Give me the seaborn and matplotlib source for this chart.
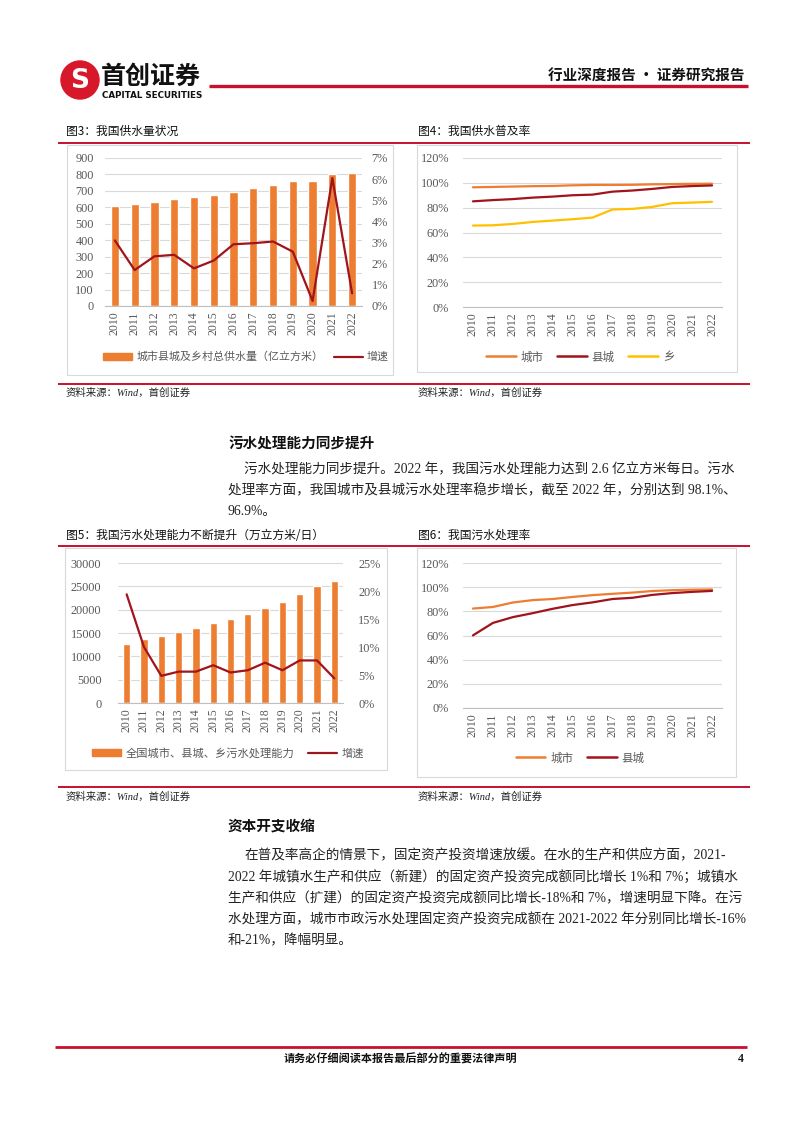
import matplotlib
matplotlib.use("Agg")
import matplotlib.pyplot as plt
import seaborn as sns
import numpy as np
import pandas as pd
from matplotlib.patches import Rectangle, Circle
from matplotlib.lines import Line2D
from matplotlib.ticker import FuncFormatter

# ---------------- data ----------------
years = [str(y) for y in range(2010, 2023)]
supply_total = [607, 620, 634, 650, 660, 677, 695, 715, 737, 758, 760, 805, 811]
supply_growth = [3.10, 1.70, 2.35, 2.42, 1.78, 2.15, 2.92, 2.97, 3.05, 2.57, 0.24, 6.05, 0.60]
coverage_city = [96.4, 96.7, 97.0, 97.3, 97.5, 98.0, 98.3, 98.3, 98.4, 98.8, 99.0, 99.2, 99.3]
coverage_county = [85.1, 86.1, 86.9, 88.1, 88.9, 90.0, 90.5, 92.9, 93.8, 95.1, 96.7, 97.4, 97.9]
coverage_town = [65.6, 65.8, 66.9, 68.5, 69.6, 70.7, 72.0, 78.5, 79.0, 80.6, 83.6, 84.1, 84.7]
sewage_capacity = [12560, 13710, 14430, 15220, 16080, 17160, 18090, 19090, 20390, 21680, 23260, 24980, 26060]
sewage_growth = [19.4, 10.0, 4.85, 5.6, 5.6, 6.75, 5.45, 5.85, 7.2, 5.85, 7.6, 7.6, 4.4]
treat_city = [82.3, 83.6, 87.3, 89.3, 90.2, 91.9, 93.4, 94.5, 95.5, 96.8, 97.5, 97.9, 98.1]
treat_county = [60.1, 70.4, 75.2, 78.5, 82.1, 85.2, 87.4, 90.2, 91.2, 93.6, 95.1, 96.1, 96.9]

# ---------------- style ----------------
sns.set_style("white")
SERIF = ['Liberation Serif', 'Noto Sans CJK SC', 'DejaVu Sans']
CJK = ['Noto Sans CJK SC', 'DejaVu Sans']
plt.rcParams['font.family'] = SERIF
ORANGE = '#ED7D31'
DARKRED = '#A0141C'
YELLOW = '#FFC000'
RED = '#C8102E'
GRID = '#D9D9D9'
TXT = '#595959'
TICKSIZE = 8.8

W, H = 802, 1133
fig = plt.figure(figsize=(W / 100, H / 100), dpi=100)


def fx(x):
    return x / W


def fy(y):
    return 1 - y / H


def hline(x0, x1, y, lw, color=RED):
    fig.add_artist(Line2D([fx(x0), fx(x1)], [fy(y), fy(y)], color=color, lw=lw,
                          transform=fig.transFigure, solid_capstyle='butt'))


def box(x0, y0, x1, y1):
    fig.add_artist(Rectangle((fx(x0), fy(y1)), fx(x1) - fx(x0), fy(y0) - fy(y1),
                             fill=False, ec=GRID, lw=0.8, transform=fig.transFigure))


def add_axes(x0, y0, x1, y1):
    return fig.add_axes([fx(x0), fy(y1), fx(x1) - fx(x0), fy(y0) - fy(y1)])


pct = FuncFormatter(lambda v, _: f"{v:.0f}%")


def style_cat(ax, n, ypad):
    ax.set_xlim(-0.5, n - 0.5)
    ax.set_xticks(range(n))
    ax.set_xticklabels(years, rotation=90, fontsize=8.5, color=TXT)
    ax.tick_params(axis='x', which='major', length=0, pad=4)
    ax.set_xticks(np.arange(-0.5, n, 1), minor=True)
    ax.tick_params(axis='x', which='minor', length=4, color='#BFBFBF', width=0.8)
    for s in ['left', 'right', 'top']:
        ax.spines[s].set_visible(False)
    ax.spines['bottom'].set_color('#BFBFBF')
    ax.spines['bottom'].set_linewidth(0.8)
    ax.grid(axis='y', color=GRID, lw=0.8)
    ax.grid(axis='x', visible=False)
    ax.set_axisbelow(True)
    ax.tick_params(axis='y', length=0, labelsize=TICKSIZE, labelcolor=TXT, pad=ypad)
    ax.set_xlabel('')
    ax.set_ylabel('')


def style_twin(ax2, pad):
    for s in ax2.spines.values():
        s.set_visible(False)
    ax2.grid(False)
    ax2.tick_params(axis='y', length=0, labelsize=TICKSIZE, labelcolor=TXT, pad=pad)
    ax2.yaxis.set_major_formatter(pct)
    ax2.set_ylabel('')
    ax2.set_xlabel('')


# ---------------- header ----------------
lax = fig.add_axes([fx(60), fy(100), 40 / W, 40 / H])
lax.set_xlim(-1, 1)
lax.set_ylim(-1, 1)
lax.set_aspect('equal')
lax.axis('off')
lax.add_patch(Circle((0, 0), 0.95, color='#D7182A'))
lax.text(0, -0.05, 'S', ha='center', va='center', color='white', fontsize=19,
         fontweight='bold', family=['DejaVu Sans'])
fig.text(fx(101), fy(77), '首创证券', fontsize=18, fontweight='bold', family=CJK,
         va='center', ha='left', color='#111111')
fig.text(fx(102), fy(95), 'CAPITAL SECURITIES', fontsize=6.3, fontweight='bold',
         family=['DejaVu Sans'], va='center', ha='left', color='#111111')
hline(209, 748, 86, 2.4)
fig.text(fx(745), fy(76), '行业深度报告 · 证券研究报告', fontsize=10.5, fontweight='bold',
         family=CJK, ha='right', va='center', color='#111111')

# ---------------- row 1 titles ----------------
fig.text(fx(66), fy(131), '图3：我国供水量状况', fontsize=8.5, family=CJK, va='center', color='#111111')
fig.text(fx(418), fy(131), '图4：我国供水普及率', fontsize=8.5, family=CJK, va='center', color='#111111')
hline(58, 750, 143, 1.4)
box(67, 145, 393, 375)
box(417, 145, 737, 372)
hline(58, 750, 384, 1.4)
fig.text(fx(66), fy(393), '资料来源：Wind，首创证券', fontsize=7.5, family=SERIF, style='italic',
         va='center', color='#222222')
fig.text(fx(418), fy(393), '资料来源：Wind，首创证券', fontsize=7.5, family=SERIF, style='italic',
         va='center', color='#222222')

# ---------------- chart 3 ----------------
n = len(years)
df1 = pd.DataFrame({'year': years, 'total': supply_total, 'growth': supply_growth})
ax1 = add_axes(105, 158, 362, 306)
sns.barplot(data=df1, x='year', y='total', color=ORANGE, width=0.42, saturation=1, ax=ax1)
ax1.set_ylim(0, 900)
ax1.set_yticks(range(0, 901, 100))
style_cat(ax1, n, 8)
ax1b = ax1.twinx()
sns.lineplot(data=df1, x='year', y='growth', color=DARKRED, lw=1.6, ax=ax1b, sort=False)
ax1b.set_ylim(0, 7)
ax1b.set_yticks(range(0, 8))
ax1.set_xlim(-0.5, n - 0.5)
style_twin(ax1b, 7)
leg_h = [Rectangle((0, 0), 1, 1, color=ORANGE), Line2D([0], [0], color=DARKRED, lw=1.6)]
fig.legend(leg_h, ['城市县城及乡村总供水量（亿立方米）', '增速'], loc='center',
           bbox_to_anchor=(fx(246), fy(357)), ncol=2, frameon=False,
           prop={'family': CJK, 'size': 7.9}, handlelength=2.6, handleheight=0.55,
           columnspacing=1.0, handletextpad=0.4, labelcolor=TXT)

# ---------------- chart 4 ----------------
df2 = pd.DataFrame({'year': years * 3,
                    'rate': coverage_city + coverage_county + coverage_town,
                    'kind': ['城市'] * n + ['县城'] * n + ['乡'] * n})
ax2 = add_axes(463, 158, 722, 307)
sns.lineplot(data=df2, x='year', y='rate', hue='kind', sort=False,
             palette={'城市': ORANGE, '县城': DARKRED, '乡': YELLOW}, lw=1.6, ax=ax2, legend=False)
ax2.set_ylim(0, 120)
ax2.set_yticks(range(0, 121, 20))
ax2.yaxis.set_major_formatter(pct)
style_cat(ax2, n, 10)
h2 = [Line2D([0], [0], color=c, lw=1.8) for c in [ORANGE, DARKRED, YELLOW]]
fig.legend(h2, ['城市', '县城', '乡'], loc='center', bbox_to_anchor=(fx(580), fy(357)),
           ncol=3, frameon=False, prop={'family': CJK, 'size': 8.3}, handlelength=2.6,
           columnspacing=1.2, handletextpad=0.4, labelcolor=TXT)

# ---------------- text block 1 ----------------
BODY = 9.8
fig.text(fx(228), fy(444), '污水处理能力同步提升', fontsize=10.5, fontweight='bold', family=CJK,
         va='center', color='#111111')
para1 = ['污水处理能力同步提升。2022 年，我国污水处理能力达到 2.6 亿立方米每日。污水',
         '处理率方面，我国城市及县城污水处理率稳步增长，截至 2022 年，分别达到 98.1%、',
         '96.9%。']
for i, line in enumerate(para1):
    fig.text(fx(244 if i == 0 else 228), fy(470 + 21 * i), line, fontsize=BODY, family=SERIF,
             va='center', color='#222222')

# ---------------- row 2 titles ----------------
fig.text(fx(66), fy(535), '图5：我国污水处理能力不断提升（万立方米/日）', fontsize=8.5, family=CJK,
         va='center', color='#111111')
fig.text(fx(418), fy(535), '图6：我国污水处理率', fontsize=8.5, family=CJK, va='center', color='#111111')
hline(58, 750, 546, 1.4)
box(65, 548, 387, 770)
box(417, 548, 736, 777)
hline(58, 750, 787, 1.4)
fig.text(fx(66), fy(797), '资料来源：Wind，首创证券', fontsize=7.5, family=SERIF, style='italic',
         va='center', color='#222222')
fig.text(fx(418), fy(797), '资料来源：Wind，首创证券', fontsize=7.5, family=SERIF, style='italic',
         va='center', color='#222222')

# ---------------- chart 5 ----------------
df5 = pd.DataFrame({'year': years, 'cap': sewage_capacity, 'growth': sewage_growth})
ax5 = add_axes(118, 563, 343, 703)
sns.barplot(data=df5, x='year', y='cap', color=ORANGE, width=0.42, saturation=1, ax=ax5)
ax5.set_ylim(0, 30000)
ax5.set_yticks(range(0, 30001, 5000))
style_cat(ax5, n, 12)
ax5b = ax5.twinx()
sns.lineplot(data=df5, x='year', y='growth', color=DARKRED, lw=1.6, ax=ax5b, sort=False)
ax5b.set_ylim(0, 25)
ax5b.set_yticks(range(0, 26, 5))
ax5.set_xlim(-0.5, n - 0.5)
style_twin(ax5b, 11)
fig.legend(leg_h, ['全国城市、县城、乡污水处理能力', '增速'], loc='center',
           bbox_to_anchor=(fx(228), fy(753)), ncol=2, frameon=False,
           prop={'family': CJK, 'size': 8.1}, handlelength=2.6, handleheight=0.55,
           columnspacing=1.2, handletextpad=0.4, labelcolor=TXT)

# ---------------- chart 6 ----------------
df6 = pd.DataFrame({'year': years * 2, 'rate': treat_city + treat_county,
                    'kind': ['城市'] * n + ['县城'] * n})
ax6 = add_axes(463, 563, 722, 708)
sns.lineplot(data=df6, x='year', y='rate', hue='kind', sort=False,
             palette={'城市': ORANGE, '县城': DARKRED}, lw=1.6, ax=ax6, legend=False)
ax6.set_ylim(0, 120)
ax6.set_yticks(range(0, 121, 20))
ax6.yaxis.set_major_formatter(pct)
style_cat(ax6, n, 10)
fig.legend(h2[:2], ['城市', '县城'], loc='center', bbox_to_anchor=(fx(580), fy(758)),
           ncol=2, frameon=False, prop={'family': CJK, 'size': 8.3}, handlelength=2.6,
           columnspacing=1.2, handletextpad=0.4, labelcolor=TXT)

# ---------------- text block 2 ----------------
fig.text(fx(228), fy(826), '资本开支收缩', fontsize=10.5, fontweight='bold', family=CJK,
         va='center', color='#111111')
para2 = ['在普及率高企的情景下，固定资产投资增速放缓。在水的生产和供应方面，2021-',
         '2022 年城镇水生产和供应（新建）的固定资产投资完成额同比增长 1%和 7%；城镇水',
         '生产和供应（扩建）的固定资产投资完成额同比增长-18%和 7%，增速明显下降。在污',
         '水处理方面，城市市政污水处理固定资产投资完成额在 2021-2022 年分别同比增长-16%',
         '和-21%，降幅明显。']
for i, line in enumerate(para2):
    fig.text(fx(244 if i == 0 else 228), fy(856 + 21.3 * i), line, fontsize=BODY, family=SERIF,
             va='center', color='#222222')

# ---------------- footer ----------------
hline(55, 747, 1047, 2.0)
fig.text(fx(400), fy(1059), '请务必仔细阅读本报告最后部分的重要法律声明', fontsize=8, fontweight='bold',
         family=CJK, ha='center', va='center', color='#111111')
fig.text(fx(744), fy(1059), '4', fontsize=8.5, fontweight='bold', family=SERIF, ha='right',
         va='center', color='#111111')

fig.savefig('out.png', dpi=100)
